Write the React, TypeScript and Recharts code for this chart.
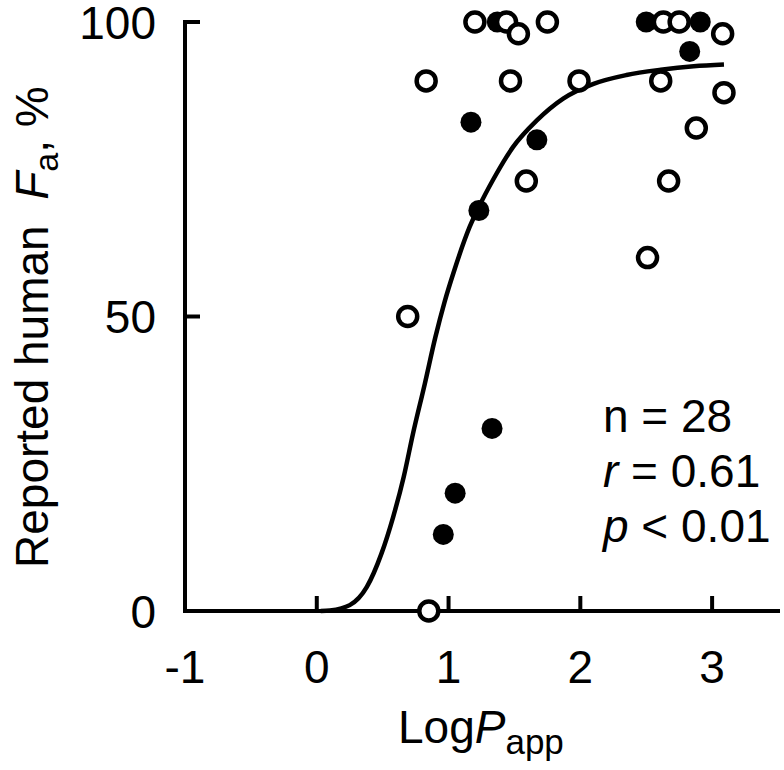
import React from 'react';
import { ScatterChart, Scatter, XAxis, YAxis } from 'recharts';

const FONT = '"Liberation Sans", Arial, Helvetica, sans-serif';

const X_TICKS = [-1, 0, 1, 2, 3];
const Y_TICKS = [0, 50, 100];

const openPoints = [
  { x: 0.69, y: 50 }, { x: 0.83, y: 90 }, { x: 0.85, y: 0 }, { x: 1.2, y: 100 },
  { x: 1.44, y: 100 }, { x: 1.47, y: 90 }, { x: 1.53, y: 98 }, { x: 1.59, y: 73 },
  { x: 1.75, y: 100 }, { x: 1.99, y: 90 }, { x: 2.51, y: 60 }, { x: 2.61, y: 90 },
  { x: 2.63, y: 100 }, { x: 2.67, y: 73 }, { x: 2.75, y: 100 }, { x: 2.88, y: 82 },
  { x: 3.08, y: 98 }, { x: 3.09, y: 88 },
];

const filledPoints = [
  { x: 0.96, y: 13 }, { x: 1.05, y: 20 }, { x: 1.17, y: 83 }, { x: 1.23, y: 68 },
  { x: 1.33, y: 31 }, { x: 1.37, y: 100 }, { x: 1.67, y: 80 }, { x: 2.5, y: 100 },
  { x: 2.83, y: 95 }, { x: 2.91, y: 100 },
];

const fitCurve = [
  { x: 0.03, y: 0 }, { x: 0.1, y: 0.1 }, { x: 0.25, y: 1.0 }, { x: 0.38, y: 4.1 },
  { x: 0.49, y: 9.7 }, { x: 0.58, y: 16.0 }, { x: 0.66, y: 22.8 }, { x: 0.73, y: 30.1 },
  { x: 0.82, y: 38.6 }, { x: 0.9, y: 46.5 }, { x: 0.97, y: 52.5 }, { x: 1.04, y: 57.6 },
  { x: 1.16, y: 65.2 }, { x: 1.23, y: 68.6 }, { x: 1.34, y: 73.3 }, { x: 1.49, y: 78.8 },
  { x: 1.67, y: 83.3 }, { x: 1.87, y: 87.0 }, { x: 2.1, y: 89.5 }, { x: 2.35, y: 91.0 },
  { x: 2.61, y: 91.9 }, { x: 2.86, y: 92.5 }, { x: 3.09, y: 92.8 },
];

const XTick = (props: any) => {
  const { x, y, payload } = props;
  return (
    <g>
      <line x1={x} y1={y} x2={x} y2={y - 15} stroke="#000" strokeWidth={4} />
      <text x={x} y={y + 72} textAnchor="middle" fontSize={46} fontFamily={FONT} fill="#000">
        {String(payload.value)}
      </text>
    </g>
  );
};

const YTick = (props: any) => {
  const { x, y, payload } = props;
  return (
    <g>
      <line x1={x} y1={y} x2={x + 15} y2={y} stroke="#000" strokeWidth={4} />
      <text x={x - 29} y={y + 16.5} textAnchor="end" fontSize={46} fontFamily={FONT} fill="#000">
        {String(payload.value)}
      </text>
    </g>
  );
};

const OpenDot = (props: any) => (
  <circle cx={props.cx} cy={props.cy} r={9.5} fill="#fff" stroke="#000" strokeWidth={4.5} />
);
const FilledDot = (props: any) => (
  <circle cx={props.cx} cy={props.cy} r={10.5} fill="#000" stroke="none" />
);
const NoDot = () => <g />;

export default function App() {
  return (
    <div style={{ position: 'absolute', left: 0, top: 0, width: 784, height: 770, background: '#fff' }}>
      <ScatterChart width={784} height={770} margin={{ top: 22, right: 6, bottom: 0, left: 0 }}>
        <XAxis
          type="number"
          dataKey="x"
          domain={[-1, 3.5]}
          ticks={X_TICKS}
          height={159}
          tickSize={0}
          tickMargin={0}
          tick={<XTick />}
          axisLine={{ stroke: '#000', strokeWidth: 4, strokeLinecap: 'square' }}
          tickLine={false}
        />
        <YAxis
          type="number"
          dataKey="y"
          domain={[0, 100]}
          ticks={Y_TICKS}
          width={185}
          tickSize={0}
          tickMargin={0}
          tick={<YTick />}
          axisLine={{ stroke: '#000', strokeWidth: 4, strokeLinecap: 'square' }}
          tickLine={false}
        />
        <Scatter
          data={fitCurve}
          line={{ stroke: '#000', strokeWidth: 4.5, fill: 'none' }}
          lineJointType="monotoneX"
          shape={NoDot}
          isAnimationActive={false}
        />
        <Scatter data={filledPoints} shape={FilledDot} isAnimationActive={false} />
        <Scatter data={openPoints} shape={OpenDot} isAnimationActive={false} />
      </ScatterChart>
      <svg
        width={784}
        height={770}
        style={{ position: 'absolute', left: 0, top: 0, pointerEvents: 'none' }}
        fontFamily={FONT}
        fill="#000"
      >
        <text x={398} y={743} fontSize={46}>
          Log<tspan fontStyle="italic">P</tspan>
          <tspan fontSize={35} dy={11}>app</tspan>
        </text>
        <text transform="translate(48,568) rotate(-90)" fontSize={46} style={{ whiteSpace: 'pre' }}>
          {'Reported human  '}
          <tspan fontStyle="italic">F</tspan>
          <tspan fontSize={34} dy={10}>a</tspan>
          <tspan dy={-10}>, %</tspan>
        </text>
        <text x={603} y={432} fontSize={46}>n = 28</text>
        <text x={603} y={487} fontSize={46}>
          <tspan fontStyle="italic">r</tspan> = 0.61
        </text>
        <text x={603} y={542} fontSize={46}>
          <tspan fontStyle="italic">p</tspan> &lt; 0.01
        </text>
      </svg>
    </div>
  );
}
